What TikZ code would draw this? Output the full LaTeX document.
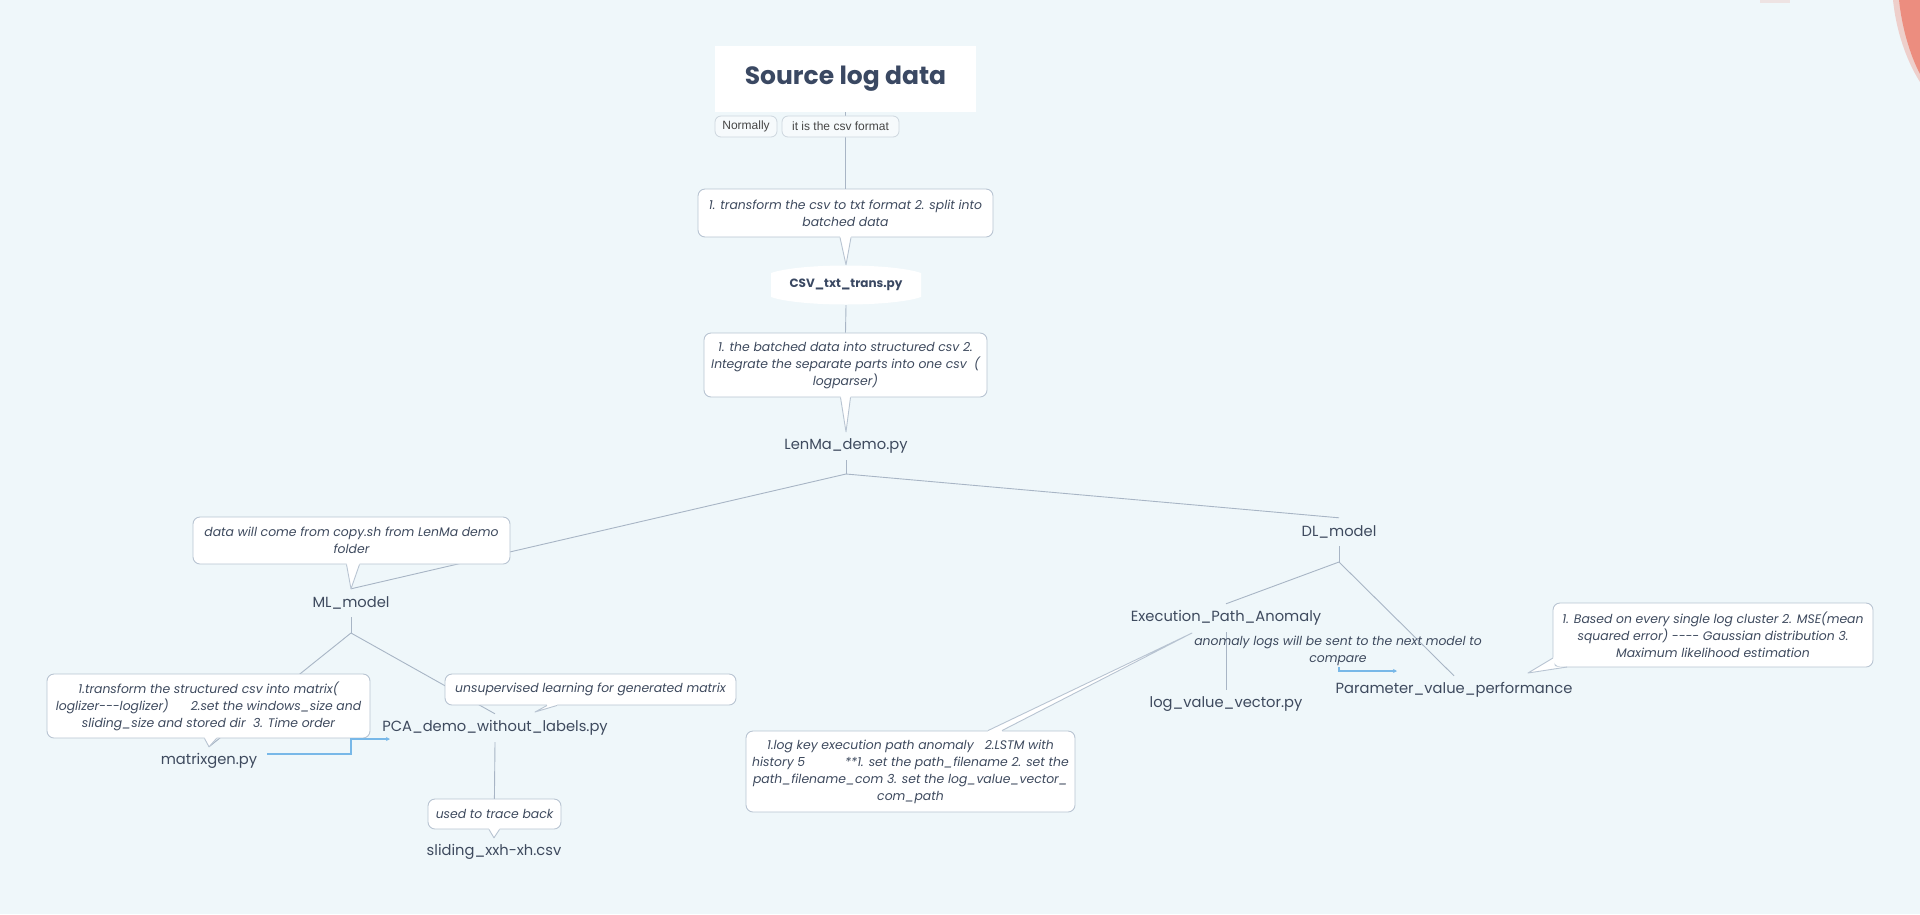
\documentclass[tikz,border=0pt]{standalone}
\usepackage{fontspec}
\setmainfont{Poppins}
\newfontfamily\tagfamily{Liberation Sans}
\usetikzlibrary{calc,arrows.meta}
\definecolor{bg}{RGB}{239,247,250}
\definecolor{txt}{RGB}{62,74,94}
\definecolor{ttl}{RGB}{58,72,98}
\definecolor{ln}{RGB}{168,181,197}
\definecolor{bd}{RGB}{184,196,210}
\definecolor{tagbd}{RGB}{205,214,222}
\definecolor{tagfill}{RGB}{246,250,252}
\definecolor{tagtxt}{RGB}{70,70,70}
\definecolor{relc}{RGB}{120,184,232}
\definecolor{blob}{RGB}{236,88,66}
\newcommand\topicfont{\fontsize{14.7}{18}\selectfont}
\newcommand\callfont{\itshape\fontsize{12.4}{17}\selectfont}
\tikzset{
  conn/.style={draw=ln, line width=0.9pt},
  topic/.style={font=\topicfont, text=txt, inner sep=0pt, minimum height=28pt},
  callbox/.style={draw=bd, fill=white, rounded corners=7pt, line width=0.9pt, font=\callfont, text=txt, align=center, inner sep=0pt},
  ptrline/.style={draw=bd, line width=0.9pt, line join=round},
  tagbox/.style={draw=tagbd, fill=tagfill, rounded corners=6pt, line width=0.8pt, font=\tagfamily\fontsize{12}{14}\selectfont, text=tagtxt, inner sep=0pt, minimum height=21pt},
  relarrow/.style={draw=relc, line width=1.3pt, -{Stealth[length=4pt,width=4pt]}},
}
% pointer below a callout: #1 node, #2 left x offset, #3 right x offset, #4 tip
\newcommand\callptr[4]{%
  \fill[white] ($(#1.south)+(#2,-1.5)$) -- ($(#1.south)+(#2,0)$) -- (#4) -- ($(#1.south)+(#3,0)$) -- ($(#1.south)+(#3,-1.5)$) -- cycle;
  \draw[ptrline] ($(#1.south)+(#2,0)$) -- (#4) -- ($(#1.south)+(#3,0)$);}
\begin{document}
\begin{tikzpicture}[x=1pt,y=-1pt]
\fill[bg] (0,0) rectangle (1920,914);
\useasboundingbox (0,0) rectangle (1920,914);
% red blur in the corner
\fill[blob, opacity=0.25] (1893,0) -- (1920,0) -- (1920,82) .. controls (1906,60) and (1896,30) .. (1893,0) -- cycle;
\fill[blob, opacity=0.55] (1899,0) -- (1920,0) -- (1920,74) .. controls (1910,55) and (1902,28) .. (1899,0) -- cycle;
\fill[blob, opacity=0.12] (1760,0) rectangle (1790,3);

% ---------- top chain ----------
\node[fill=white, minimum width=261pt, minimum height=66pt, inner sep=0pt,
      font=\bfseries\fontsize{25}{30}\selectfont, text=ttl] (src) at (845.5,79) {Source log data};
\node[topic, minimum height=40pt, minimum width=150pt] (csv) at (846,285) {};
\node[callbox, minimum width=295pt, minimum height=48pt] (c1) at (845.5,213)
  {1. transform the csv to txt format 2. split into\\batched data};
\node[callbox, minimum width=283pt, minimum height=64pt] (c2) at (845.5,365)
  {1. the batched data into structured csv 2.\\Integrate the separate parts into one csv\ \ (\\logparser)};
\node[topic] (lenma) at (846,446) {LenMa\_demo.py};

\draw[conn] (src.south) -- (c1.north);
\node[tagbox, minimum width=62pt] (tag1) at (746,126.5) {Normally};
\node[tagbox, minimum width=117pt] (tag2) at (840.5,126.5) {it is the csv format};
\callptr{c1}{-5.5}{5.5}{csv.north}
% csv node shape
\fill[white] (771,273) .. controls (800,263) and (892,263) .. (921,273) -- (921,297) .. controls (892,307) and (800,307) .. (771,297) -- cycle;
\node[font=\bfseries\fontsize{12}{14}\selectfont, text=ttl] at (csv) {CSV\_txt\_trans.py};
\draw[conn] (csv.south) -- (c2.north);
\callptr{c2}{-5}{5}{lenma.north}

% ---------- branch ----------
\coordinate (b1) at (846,474);
\node[topic] (ml) at (351,603) {ML\_model};
\node[topic] (dl) at (1339,532) {DL\_model};
\draw[conn] (lenma.south) -- (b1);
\draw[conn] (b1) -- (ml.north);
\draw[conn] (b1) -- (dl.north);

% ---------- ML side ----------
\node[callbox, minimum width=317pt, minimum height=47pt] (mlc) at (351.5,540.5)
  {data will come from copy.sh from LenMa demo\\folder};
\callptr{mlc}{-5}{8}{ml.north}

\coordinate (b2) at (351,633);
\node[topic] (mg) at (209,761) {matrixgen.py};
\node[topic] (pca) at (495,728) {PCA\_demo\_without\_labels.py};
\node[topic] (slide) at (494,852) {sliding\_xxh-xh.csv};
\draw[conn] (ml.south) -- (b2);
\draw[conn] (b2) -- (mg.north);
\draw[conn] (b2) -- (pca.north);
\draw[conn] (pca.south) -- (slide.north);

\node[callbox, minimum width=323pt, minimum height=64pt] (mgc) at (208.5,706)
  {1.transform the structured csv into matrix(\\loglizer-{}-{}-loglizer)\hspace{22pt}2.set the windows\_size and\\sliding\_size and stored dir\ \ 3. Time order};
\callptr{mgc}{-4}{8}{mg.north}

\node[callbox, minimum width=291pt, minimum height=31pt] (pcac) at (590.5,689.5)
  {unsupervised learning for generated matrix};
\coordinate (pcatip) at (535,712);
\callptr{pcac}{-43.5}{-33.5}{pcatip}

\node[callbox, minimum width=133pt, minimum height=30pt] (tbc) at (494.5,814) {used to trace back};
\callptr{tbc}{-5.5}{5}{slide.north}

\coordinate (r1s) at (267,754);
\coordinate (r1e) at (390,739);
\draw[relarrow] (r1s) -- (351,754) -- (351,739) -- (r1e);

% ---------- DL side ----------
\coordinate (b3) at (1339,562);
\node[topic] (epa) at (1226,618) {Execution\_Path\_Anomaly};
\node[topic] (lvv) at (1226,704) {log\_value\_vector.py};
\node[topic] (pvp) at (1454,690) {Parameter\_value\_performance};
\draw[conn] (dl.south) -- (b3);
\draw[conn] (b3) -- (epa.north);
\draw[conn] (b3) -- (pvp.north);
\draw[conn] (epa.south) -- (lvv.north);

\node[font=\callfont, text=txt, align=center, inner sep=0pt] (anno) at (1338,651)
  {anomaly logs will be sent to the next model to\\compare};
\coordinate (r2s) at (1339,667);
\coordinate (r2e) at (1397,671);
\draw[relarrow] (r2s) -- (1339,671) -- (r2e);

\node[callbox, minimum width=329pt, minimum height=81pt] (lstm) at (910.5,771.5)
  {1.log key execution path anomaly\ \ \ 2.LSTM with\\history 5\hspace{40pt}**1. set the path\_filename 2. set the\\path\_filename\_com 3. set the log\_value\_vector\_\\com\_path};
\coordinate (lstmtip) at (1192,633);
\fill[white] ($(lstm.north)+(77.5,1.5)$) -- ($(lstm.north)+(77.5,0)$) -- (lstmtip) -- ($(lstm.north)+(91.5,0)$) -- ($(lstm.north)+(91.5,1.5)$) -- cycle;
\draw[ptrline] ($(lstm.north)+(77.5,0)$) -- (lstmtip) -- ($(lstm.north)+(91.5,0)$);

\node[callbox, minimum width=320pt, minimum height=64pt] (pvc) at (1713,635)
  {1. Based on every single log cluster 2. MSE(mean\\squared error) -{}-{}-{}- Gaussian distribution 3.\\Maximum likelihood estimation};
\coordinate (pvctip) at (1528,673);
\fill[white] (1554.5,657) -- (pvctip) -- (1567,666.5) -- (1554.5,666.5) -- cycle;
\draw[ptrline] (1553,658) -- (pvctip) -- (1567,667);
\end{tikzpicture}
\end{document}
